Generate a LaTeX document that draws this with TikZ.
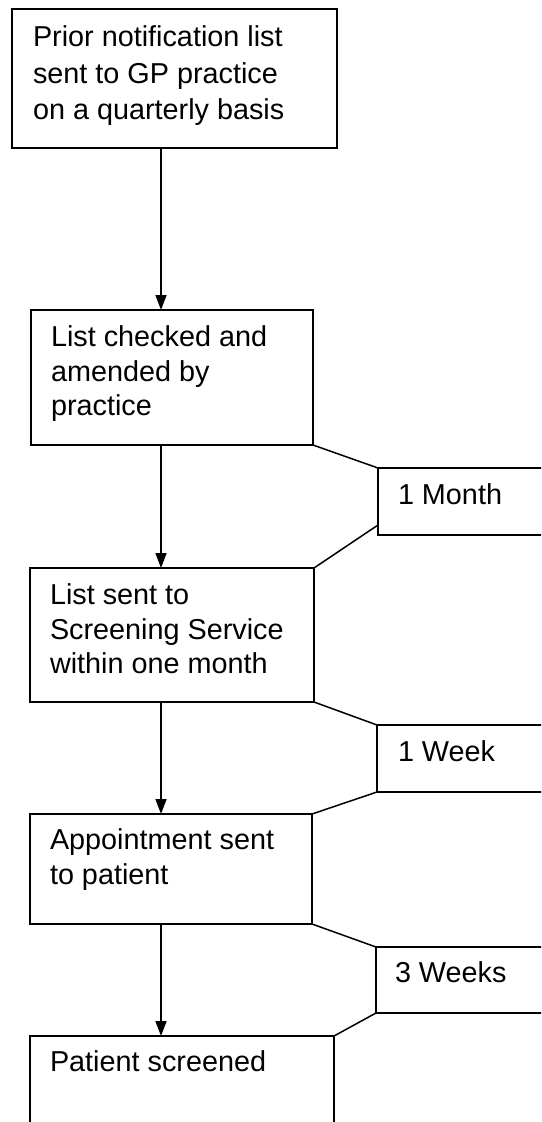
\documentclass[tikz,border=0pt]{standalone}
\usepackage{fontspec}
\setmainfont{Liberation Sans}
\usetikzlibrary{arrows.meta}
\begin{document}
\begin{tikzpicture}[x=1pt,y=-1pt,
  box/.style={draw=black, line width=1.8pt, inner sep=0pt, outer sep=0pt, anchor=north west},
  txt/.style={inner sep=0pt, outer sep=0pt, anchor=north west, align=left, font=\fontsize{28.8}{34.5}\selectfont},
  conn/.style={line width=1.5pt},
  arr/.style={line width=1.6pt, -{Triangle[length=15pt,width=11pt]}}]
\fill[white] (0,0) rectangle (541,1122);
\clip (0,0) rectangle (541,1122);
% process boxes
\node[box, minimum width=325pt, minimum height=139pt] (b1) at (12,9) {};
\node[box, minimum width=282pt, minimum height=135pt] (b2) at (31,310) {};
\node[box, minimum width=284pt, minimum height=134pt] (b3) at (30,568) {};
\node[box, minimum width=282pt, minimum height=110pt] (b4) at (30,814) {};
\node[box, minimum width=304pt, minimum height=130pt] (b5) at (30,1036) {};
% time boxes
\node[box, minimum width=240pt, minimum height=67pt] (m1) at (378,468) {};
\node[box, minimum width=240pt, minimum height=67pt] (w1) at (377,725) {};
\node[box, minimum width=240pt, minimum height=66pt] (w3) at (376,947) {};
% texts
\node[txt, font=\fontsize{28.8}{36.5}\selectfont] (t1) at (33,26) {Prior notification list\\sent to GP practice\\on a quarterly basis};
\node[txt] (t2) at (51,326) {List checked and\\amended by\\practice};
\node[txt] (t3) at (50,584) {List sent to\\Screening Service\\within one month};
\node[txt] (t4) at (50,829) {Appointment sent\\to patient};
\node[txt] (t5) at (50,1051) {Patient screened};
\node[txt] (tm) at (398,484) {1 Month};
\node[txt] (tw) at (398,741) {1 Week};
\node[txt] (tw3) at (395,962) {3 Weeks};
% arrows
\coordinate (ax) at (161,0);
\draw[arr] (b1.south -| ax) -- (b2.north -| ax);
\draw[arr] (b2.south -| ax) -- (b3.north -| ax);
\draw[arr] (b3.south -| ax) -- (b4.north -| ax);
\draw[arr] (b4.south -| ax) -- (b5.north -| ax);
% connectors to time boxes
\draw[conn] (b2.south east) -- (m1.north west);
\draw[conn] ([yshift=10pt]m1.south west) -- (b3.north east);
\draw[conn] (b3.south east) -- (w1.north west);
\draw[conn] (w1.south west) -- (b4.north east);
\draw[conn] (b4.south east) -- (w3.north west);
\draw[conn] (w3.south west) -- (b5.north east);
\end{tikzpicture}
\end{document}
